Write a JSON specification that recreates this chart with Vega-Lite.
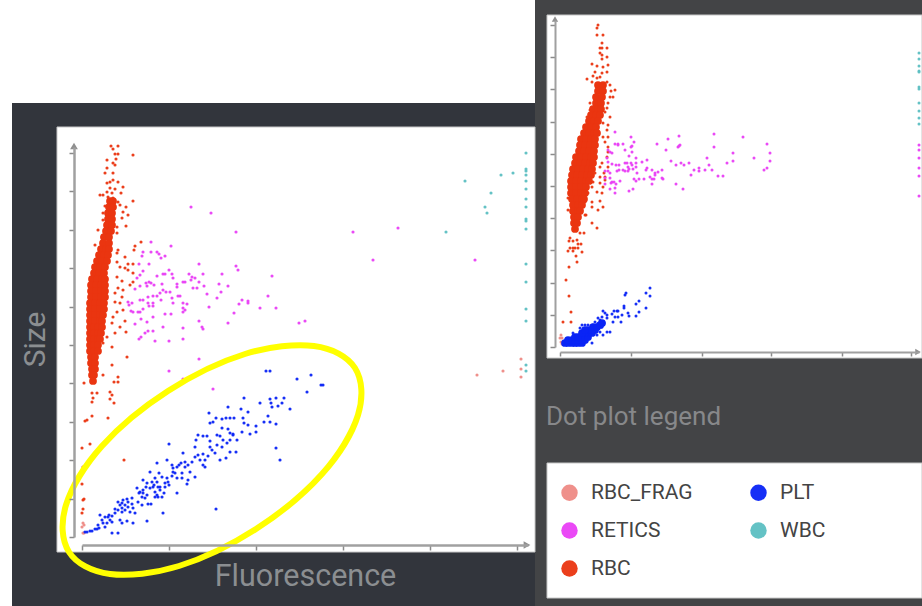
{"$schema":"https://vega.github.io/schema/vega-lite/v6.json","width":922,"height":606,"padding":0,"autosize":{"type":"none"},"background":"white","config":{"view":{"stroke":null},"font":"Roboto"},
"datasets":{
"frameL":[{"x0":12,"x1":535,"y0":103,"y1":606}],
"frameR":[{"x0":535,"x1":922,"y0":0,"y1":606}],
"white":[{"x0":57,"x1":535,"y0":127,"y1":552},{"x0":547,"x1":922,"y0":15,"y1":358},{"x0":547,"x1":922,"y0":463,"y1":598}],
"caption":[{"x":546,"y":417,"text":"Dot plot legend"}],
"ring":[{"k":1,"x":355,"y":368},{"k":2,"x":358,"y":415},{"k":3,"x":322,"y":474},{"k":4,"x":256,"y":529},{"k":5,"x":179,"y":566},{"k":6,"x":110,"y":574},{"k":7,"x":69,"y":552},{"k":8,"x":66,"y":505},{"k":9,"x":102,"y":446},{"k":10,"x":168,"y":391},{"k":11,"x":245,"y":354},{"k":12,"x":314,"y":346}],
"arrowUpL":[{"x":-8,"y":391}],"arrowRightL":[{"x":445,"y":-8}],"arrowUpR":[{"x":-5,"y":328}],"arrowRightR":[{"x":358,"y":-5}],
"coreL":[{"x":28,"y":336,"p":"RBC"},{"x":31,"y":336,"p":"RBC"},{"x":27,"y":330,"p":"RBC"},{"x":31,"y":330,"p":"RBC"},{"x":26,"y":324,"p":"RBC"},{"x":30,"y":324,"p":"RBC"},{"x":26,"y":318,"p":"RBC"},{"x":30,"y":318,"p":"RBC"},{"x":25,"y":312,"p":"RBC"},{"x":30,"y":312,"p":"RBC"},{"x":24,"y":306,"p":"RBC"},{"x":29,"y":306,"p":"RBC"},{"x":22,"y":300,"p":"RBC"},{"x":27,"y":300,"p":"RBC"},{"x":21,"y":294,"p":"RBC"},{"x":27,"y":294,"p":"RBC"},{"x":19,"y":288,"p":"RBC"},{"x":24,"y":288,"p":"RBC"},{"x":27,"y":288,"p":"RBC"},{"x":17,"y":282,"p":"RBC"},{"x":22,"y":282,"p":"RBC"},{"x":26,"y":282,"p":"RBC"},{"x":15,"y":276,"p":"RBC"},{"x":20,"y":276,"p":"RBC"},{"x":25,"y":276,"p":"RBC"},{"x":13,"y":270,"p":"RBC"},{"x":18,"y":270,"p":"RBC"},{"x":23,"y":270,"p":"RBC"},{"x":12,"y":264,"p":"RBC"},{"x":17,"y":264,"p":"RBC"},{"x":22,"y":264,"p":"RBC"},{"x":10,"y":258,"p":"RBC"},{"x":15,"y":258,"p":"RBC"},{"x":20,"y":258,"p":"RBC"},{"x":23,"y":258,"p":"RBC"},{"x":9,"y":252,"p":"RBC"},{"x":14,"y":252,"p":"RBC"},{"x":19,"y":252,"p":"RBC"},{"x":23,"y":252,"p":"RBC"},{"x":9,"y":246,"p":"RBC"},{"x":14,"y":246,"p":"RBC"},{"x":19,"y":246,"p":"RBC"},{"x":23,"y":246,"p":"RBC"},{"x":9,"y":240,"p":"RBC"},{"x":14,"y":240,"p":"RBC"},{"x":19,"y":240,"p":"RBC"},{"x":23,"y":240,"p":"RBC"},{"x":8,"y":234,"p":"RBC"},{"x":13,"y":234,"p":"RBC"},{"x":18,"y":234,"p":"RBC"},{"x":22,"y":234,"p":"RBC"},{"x":8,"y":228,"p":"RBC"},{"x":13,"y":228,"p":"RBC"},{"x":18,"y":228,"p":"RBC"},{"x":22,"y":228,"p":"RBC"},{"x":8,"y":222,"p":"RBC"},{"x":13,"y":222,"p":"RBC"},{"x":18,"y":222,"p":"RBC"},{"x":21,"y":222,"p":"RBC"},{"x":8,"y":216,"p":"RBC"},{"x":13,"y":216,"p":"RBC"},{"x":18,"y":216,"p":"RBC"},{"x":20,"y":216,"p":"RBC"},{"x":8,"y":210,"p":"RBC"},{"x":12,"y":210,"p":"RBC"},{"x":16,"y":210,"p":"RBC"},{"x":20,"y":210,"p":"RBC"},{"x":8,"y":204,"p":"RBC"},{"x":12,"y":204,"p":"RBC"},{"x":16,"y":204,"p":"RBC"},{"x":19,"y":204,"p":"RBC"},{"x":8,"y":198,"p":"RBC"},{"x":12,"y":198,"p":"RBC"},{"x":16,"y":198,"p":"RBC"},{"x":18,"y":198,"p":"RBC"},{"x":8,"y":192,"p":"RBC"},{"x":12,"y":192,"p":"RBC"},{"x":16,"y":192,"p":"RBC"},{"x":8,"y":186,"p":"RBC"},{"x":12,"y":186,"p":"RBC"},{"x":16,"y":186,"p":"RBC"},{"x":9,"y":180,"p":"RBC"},{"x":13,"y":180,"p":"RBC"},{"x":9,"y":174,"p":"RBC"},{"x":13,"y":174,"p":"RBC"},{"x":10,"y":168,"p":"RBC"},{"x":13,"y":168,"p":"RBC"},{"x":10,"y":162,"p":"RBC"},{"x":12,"y":162,"p":"RBC"},{"x":11,"y":156,"p":"RBC"}],
"dotsL":[{"x":29,"y":391,"p":"RBC"},{"x":36,"y":391,"p":"RBC"},{"x":31,"y":388,"p":"RBC"},{"x":33,"y":383,"p":"RBC"},{"x":36,"y":383,"p":"RBC"},{"x":51,"y":382,"p":"RBC"},{"x":25,"y":377,"p":"RBC"},{"x":34,"y":378,"p":"RBC"},{"x":31,"y":374,"p":"RBC"},{"x":33,"y":372,"p":"RBC"},{"x":25,"y":369,"p":"RBC"},{"x":31,"y":364,"p":"RBC"},{"x":23,"y":364,"p":"RBC"},{"x":28,"y":355,"p":"RBC"},{"x":31,"y":357,"p":"RBC"},{"x":36,"y":355,"p":"RBC"},{"x":25,"y":354,"p":"RBC"},{"x":41,"y":350,"p":"RBC"},{"x":28,"y":349,"p":"RBC"},{"x":33,"y":348,"p":"RBC"},{"x":25,"y":345,"p":"RBC"},{"x":30,"y":344,"p":"RBC"},{"x":21,"y":342,"p":"RBC"},{"x":18,"y":342,"p":"RBC"},{"x":39,"y":344,"p":"RBC"},{"x":26,"y":340,"p":"RBC"},{"x":31,"y":339,"p":"RBC"},{"x":51,"y":336,"p":"RBC"},{"x":36,"y":335,"p":"RBC"},{"x":23,"y":331,"p":"RBC"},{"x":38,"y":332,"p":"RBC"},{"x":44,"y":330,"p":"RBC"},{"x":41,"y":325,"p":"RBC"},{"x":46,"y":322,"p":"RBC"},{"x":21,"y":324,"p":"RBC"},{"x":40,"y":319,"p":"RBC"},{"x":21,"y":317,"p":"RBC"},{"x":44,"y":311,"p":"RBC"},{"x":16,"y":307,"p":"RBC"},{"x":35,"y":310,"p":"RBC"},{"x":20,"y":300,"p":"RBC"},{"x":35,"y":304,"p":"RBC"},{"x":13,"y":292,"p":"RBC"},{"x":59,"y":295,"p":"RBC"},{"x":53,"y":291,"p":"RBC"},{"x":52,"y":287,"p":"RBC"},{"x":36,"y":287,"p":"RBC"},{"x":35,"y":284,"p":"RBC"},{"x":43,"y":280,"p":"RBC"},{"x":35,"y":275,"p":"RBC"},{"x":46,"y":273,"p":"RBC"},{"x":51,"y":273,"p":"RBC"},{"x":38,"y":270,"p":"RBC"},{"x":43,"y":269,"p":"RBC"},{"x":46,"y":267,"p":"RBC"},{"x":51,"y":264,"p":"RBC"},{"x":35,"y":260,"p":"RBC"},{"x":40,"y":256,"p":"RBC"},{"x":51,"y":255,"p":"RBC"},{"x":48,"y":252,"p":"RBC"},{"x":36,"y":249,"p":"RBC"},{"x":41,"y":247,"p":"RBC"},{"x":33,"y":244,"p":"RBC"},{"x":40,"y":240,"p":"RBC"},{"x":33,"y":235,"p":"RBC"},{"x":38,"y":234,"p":"RBC"},{"x":41,"y":227,"p":"RBC"},{"x":35,"y":225,"p":"RBC"},{"x":31,"y":220,"p":"RBC"},{"x":43,"y":216,"p":"RBC"},{"x":30,"y":214,"p":"RBC"},{"x":38,"y":210,"p":"RBC"},{"x":33,"y":204,"p":"RBC"},{"x":44,"y":205,"p":"RBC"},{"x":25,"y":200,"p":"RBC"},{"x":30,"y":190,"p":"RBC"},{"x":45,"y":180,"p":"RBC"},{"x":21,"y":194,"p":"RBC"},{"x":30,"y":172,"p":"RBC"},{"x":21,"y":162,"p":"RBC"},{"x":36,"y":160,"p":"RBC"},{"x":36,"y":155,"p":"RBC"},{"x":32,"y":155,"p":"RBC"},{"x":2,"y":154,"p":"RBC"},{"x":10,"y":144,"p":"RBC"},{"x":15,"y":144,"p":"RBC"},{"x":28,"y":145,"p":"RBC"},{"x":30,"y":142,"p":"RBC"},{"x":11,"y":139,"p":"RBC"},{"x":28,"y":138,"p":"RBC"},{"x":10,"y":135,"p":"RBC"},{"x":32,"y":134,"p":"RBC"},{"x":5,"y":117,"p":"RBC"},{"x":3,"y":116,"p":"RBC"},{"x":10,"y":121,"p":"RBC"},{"x":26,"y":119,"p":"RBC"},{"x":8,"y":93,"p":"RBC"},{"x":0,"y":89,"p":"RBC"},{"x":42,"y":77,"p":"RBC"},{"x":1,"y":70,"p":"RBC"},{"x":0,"y":53,"p":"RBC"},{"x":1,"y":37,"p":"RBC"},{"x":2,"y":38,"p":"RBC"},{"x":1,"y":28,"p":"RBC"},{"x":0,"y":24,"p":"RBC"},
{"x":1,"y":14,"p":"RBC_FRAG"},{"x":0,"y":10,"p":"RBC_FRAG"},{"x":2,"y":12,"p":"RBC_FRAG"},{"x":1,"y":4,"p":"RBC_FRAG"},{"x":2,"y":4,"p":"RBC_FRAG"},{"x":439,"y":178,"p":"RBC_FRAG"},{"x":439,"y":168,"p":"RBC_FRAG"},{"x":439,"y":160,"p":"RBC_FRAG"},{"x":421,"y":166,"p":"RBC_FRAG"},{"x":395,"y":162,"p":"RBC_FRAG"},
{"x":444,"y":384,"p":"WBC"},{"x":444,"y":368,"p":"WBC"},{"x":444,"y":366,"p":"WBC"},{"x":444,"y":362,"p":"WBC"},{"x":444,"y":356,"p":"WBC"},{"x":444,"y":348,"p":"WBC"},{"x":444,"y":338,"p":"WBC"},{"x":444,"y":330,"p":"WBC"},{"x":444,"y":318,"p":"WBC"},{"x":444,"y":316,"p":"WBC"},{"x":444,"y":308,"p":"WBC"},{"x":444,"y":273,"p":"WBC"},{"x":444,"y":255,"p":"WBC"},{"x":444,"y":228,"p":"WBC"},{"x":444,"y":216,"p":"WBC"},{"x":444,"y":172,"p":"WBC"},{"x":444,"y":166,"p":"WBC"},{"x":431,"y":364,"p":"WBC"},{"x":419,"y":362,"p":"WBC"},{"x":383,"y":356,"p":"WBC"},{"x":409,"y":344,"p":"WBC"},{"x":403,"y":330,"p":"WBC"},{"x":405,"y":324,"p":"WBC"},{"x":364,"y":305,"p":"WBC"},
{"x":271,"y":305,"p":"RETICS"},{"x":316,"y":309,"p":"RETICS"},{"x":291,"y":277,"p":"RETICS"},{"x":393,"y":277,"p":"RETICS"},{"x":223,"y":216,"p":"RETICS"},{"x":109,"y":330,"p":"RETICS"},{"x":129,"y":324,"p":"RETICS"},{"x":154,"y":305,"p":"RETICS"},{"x":89,"y":291,"p":"RETICS"},{"x":69,"y":295,"p":"RETICS"},{"x":61,"y":285,"p":"RETICS"},{"x":69,"y":285,"p":"RETICS"},{"x":75,"y":285,"p":"RETICS"},{"x":77,"y":283,"p":"RETICS"},{"x":83,"y":281,"p":"RETICS"},{"x":60,"y":281,"p":"RETICS"},{"x":79,"y":279,"p":"RETICS"},{"x":117,"y":273,"p":"RETICS"},{"x":154,"y":271,"p":"RETICS"},{"x":156,"y":267,"p":"RETICS"},{"x":67,"y":273,"p":"RETICS"},{"x":57,"y":273,"p":"RETICS"},{"x":61,"y":266,"p":"RETICS"},{"x":58,"y":262,"p":"RETICS"},{"x":55,"y":259,"p":"RETICS"},{"x":87,"y":267,"p":"RETICS"},{"x":81,"y":263,"p":"RETICS"},{"x":83,"y":263,"p":"RETICS"},{"x":90,"y":263,"p":"RETICS"},{"x":91,"y":259,"p":"RETICS"},{"x":75,"y":261,"p":"RETICS"},{"x":107,"y":263,"p":"RETICS"},{"x":121,"y":263,"p":"RETICS"},{"x":140,"y":263,"p":"RETICS"},{"x":190,"y":261,"p":"RETICS"},{"x":110,"y":260,"p":"RETICS"},{"x":113,"y":259,"p":"RETICS"},{"x":109,"y":257,"p":"RETICS"},{"x":101,"y":255,"p":"RETICS"},{"x":103,"y":255,"p":"RETICS"},{"x":117,"y":255,"p":"RETICS"},{"x":95,"y":253,"p":"RETICS"},{"x":95,"y":250,"p":"RETICS"},{"x":64,"y":254,"p":"RETICS"},{"x":67,"y":255,"p":"RETICS"},{"x":69,"y":254,"p":"RETICS"},{"x":72,"y":252,"p":"RETICS"},{"x":65,"y":251,"p":"RETICS"},{"x":80,"y":253,"p":"RETICS"},{"x":137,"y":253,"p":"RETICS"},{"x":146,"y":251,"p":"RETICS"},{"x":53,"y":248,"p":"RETICS"},{"x":58,"y":251,"p":"RETICS"},{"x":111,"y":249,"p":"RETICS"},{"x":115,"y":249,"p":"RETICS"},{"x":122,"y":251,"p":"RETICS"},{"x":81,"y":247,"p":"RETICS"},{"x":84,"y":245,"p":"RETICS"},{"x":78,"y":244,"p":"RETICS"},{"x":75,"y":241,"p":"RETICS"},{"x":88,"y":245,"p":"RETICS"},{"x":139,"y":245,"p":"RETICS"},{"x":125,"y":243,"p":"RETICS"},{"x":186,"y":241,"p":"RETICS"},{"x":61,"y":237,"p":"RETICS"},{"x":58,"y":237,"p":"RETICS"},{"x":66,"y":240,"p":"RETICS"},{"x":71,"y":241,"p":"RETICS"},{"x":98,"y":241,"p":"RETICS"},{"x":96,"y":241,"p":"RETICS"},{"x":135,"y":239,"p":"RETICS"},{"x":46,"y":235,"p":"RETICS"},{"x":50,"y":234,"p":"RETICS"},{"x":47,"y":232,"p":"RETICS"},{"x":66,"y":234,"p":"RETICS"},{"x":71,"y":234,"p":"RETICS"},{"x":67,"y":231,"p":"RETICS"},{"x":71,"y":231,"p":"RETICS"},{"x":79,"y":237,"p":"RETICS"},{"x":90,"y":239,"p":"RETICS"},{"x":91,"y":234,"p":"RETICS"},{"x":101,"y":234,"p":"RETICS"},{"x":105,"y":233,"p":"RETICS"},{"x":127,"y":230,"p":"RETICS"},{"x":160,"y":237,"p":"RETICS"},{"x":157,"y":233,"p":"RETICS"},{"x":166,"y":236,"p":"RETICS"},{"x":166,"y":234,"p":"RETICS"},{"x":178,"y":229,"p":"RETICS"},{"x":194,"y":229,"p":"RETICS"},{"x":101,"y":229,"p":"RETICS"},{"x":103,"y":227,"p":"RETICS"},{"x":101,"y":225,"p":"RETICS"},{"x":49,"y":226,"p":"RETICS"},{"x":51,"y":225,"p":"RETICS"},{"x":56,"y":225,"p":"RETICS"},{"x":58,"y":225,"p":"RETICS"},{"x":61,"y":228,"p":"RETICS"},{"x":83,"y":223,"p":"RETICS"},{"x":89,"y":223,"p":"RETICS"},{"x":71,"y":220,"p":"RETICS"},{"x":59,"y":218,"p":"RETICS"},{"x":152,"y":224,"p":"RETICS"},{"x":117,"y":216,"p":"RETICS"},{"x":146,"y":214,"p":"RETICS"},{"x":53,"y":213,"p":"RETICS"},{"x":65,"y":215,"p":"RETICS"},{"x":81,"y":210,"p":"RETICS"},{"x":101,"y":209,"p":"RETICS"},{"x":120,"y":210,"p":"RETICS"},{"x":121,"y":208,"p":"RETICS"},{"x":66,"y":206,"p":"RETICS"},{"x":71,"y":206,"p":"RETICS"},{"x":63,"y":204,"p":"RETICS"},{"x":59,"y":200,"p":"RETICS"},{"x":57,"y":198,"p":"RETICS"},{"x":73,"y":196,"p":"RETICS"},{"x":87,"y":196,"p":"RETICS"},{"x":101,"y":198,"p":"RETICS"},{"x":217,"y":214,"p":"RETICS"},{"x":117,"y":178,"p":"RETICS"},{"x":87,"y":166,"p":"RETICS"},{"x":131,"y":148,"p":"RETICS"},{"x":101,"y":158,"p":"RETICS"},
{"x":3,"y":5,"p":"PLT"},{"x":5,"y":5,"p":"PLT"},{"x":8,"y":6,"p":"PLT"},{"x":10,"y":6,"p":"PLT"},{"x":13,"y":8,"p":"PLT"},{"x":15,"y":8,"p":"PLT"},{"x":17,"y":9,"p":"PLT"},{"x":16,"y":12,"p":"PLT"},{"x":23,"y":10,"p":"PLT"},{"x":25,"y":14,"p":"PLT"},{"x":28,"y":17,"p":"PLT"},{"x":30,"y":21,"p":"PLT"},{"x":18,"y":22,"p":"PLT"},{"x":23,"y":20,"p":"PLT"},{"x":26,"y":20,"p":"PLT"},{"x":30,"y":15,"p":"PLT"},{"x":30,"y":4,"p":"PLT"},{"x":36,"y":4,"p":"PLT"},{"x":33,"y":24,"p":"PLT"},{"x":36,"y":27,"p":"PLT"},{"x":40,"y":25,"p":"PLT"},{"x":43,"y":27,"p":"PLT"},{"x":36,"y":35,"p":"PLT"},{"x":40,"y":34,"p":"PLT"},{"x":41,"y":37,"p":"PLT"},{"x":45,"y":38,"p":"PLT"},{"x":50,"y":39,"p":"PLT"},{"x":46,"y":30,"p":"PLT"},{"x":50,"y":33,"p":"PLT"},{"x":51,"y":29,"p":"PLT"},{"x":48,"y":25,"p":"PLT"},{"x":53,"y":24,"p":"PLT"},{"x":38,"y":17,"p":"PLT"},{"x":45,"y":16,"p":"PLT"},{"x":51,"y":14,"p":"PLT"},{"x":40,"y":14,"p":"PLT"},{"x":65,"y":16,"p":"PLT"},{"x":81,"y":24,"p":"PLT"},{"x":134,"y":28,"p":"PLT"},{"x":58,"y":45,"p":"PLT"},{"x":61,"y":44,"p":"PLT"},{"x":60,"y":40,"p":"PLT"},{"x":65,"y":42,"p":"PLT"},{"x":63,"y":39,"p":"PLT"},{"x":56,"y":35,"p":"PLT"},{"x":60,"y":32,"p":"PLT"},{"x":66,"y":33,"p":"PLT"},{"x":69,"y":33,"p":"PLT"},{"x":55,"y":49,"p":"PLT"},{"x":61,"y":57,"p":"PLT"},{"x":65,"y":54,"p":"PLT"},{"x":70,"y":55,"p":"PLT"},{"x":73,"y":59,"p":"PLT"},{"x":75,"y":55,"p":"PLT"},{"x":71,"y":50,"p":"PLT"},{"x":68,"y":49,"p":"PLT"},{"x":73,"y":45,"p":"PLT"},{"x":75,"y":42,"p":"PLT"},{"x":80,"y":40,"p":"PLT"},{"x":77,"y":64,"p":"PLT"},{"x":80,"y":60,"p":"PLT"},{"x":85,"y":59,"p":"PLT"},{"x":87,"y":52,"p":"PLT"},{"x":83,"y":54,"p":"PLT"},{"x":78,"y":50,"p":"PLT"},{"x":82,"y":44,"p":"PLT"},{"x":95,"y":44,"p":"PLT"},{"x":68,"y":65,"p":"PLT"},{"x":75,"y":74,"p":"PLT"},{"x":85,"y":77,"p":"PLT"},{"x":90,"y":72,"p":"PLT"},{"x":91,"y":69,"p":"PLT"},{"x":93,"y":64,"p":"PLT"},{"x":90,"y":61,"p":"PLT"},{"x":95,"y":59,"p":"PLT"},{"x":100,"y":64,"p":"PLT"},{"x":100,"y":59,"p":"PLT"},{"x":105,"y":53,"p":"PLT"},{"x":106,"y":57,"p":"PLT"},{"x":97,"y":72,"p":"PLT"},{"x":101,"y":84,"p":"PLT"},{"x":103,"y":70,"p":"PLT"},{"x":106,"y":72,"p":"PLT"},{"x":110,"y":75,"p":"PLT"},{"x":113,"y":80,"p":"PLT"},{"x":116,"y":82,"p":"PLT"},{"x":121,"y":83,"p":"PLT"},{"x":113,"y":60,"p":"PLT"},{"x":108,"y":65,"p":"PLT"},{"x":87,"y":93,"p":"PLT"},{"x":121,"y":72,"p":"PLT"},{"x":123,"y":70,"p":"PLT"},{"x":118,"y":77,"p":"PLT"},{"x":123,"y":77,"p":"PLT"},{"x":113,"y":90,"p":"PLT"},{"x":114,"y":97,"p":"PLT"},{"x":116,"y":102,"p":"PLT"},{"x":121,"y":101,"p":"PLT"},{"x":125,"y":101,"p":"PLT"},{"x":128,"y":96,"p":"PLT"},{"x":128,"y":90,"p":"PLT"},{"x":130,"y":87,"p":"PLT"},{"x":126,"y":81,"p":"PLT"},{"x":133,"y":84,"p":"PLT"},{"x":135,"y":102,"p":"PLT"},{"x":138,"y":101,"p":"PLT"},{"x":141,"y":97,"p":"PLT"},{"x":135,"y":92,"p":"PLT"},{"x":140,"y":90,"p":"PLT"},{"x":145,"y":94,"p":"PLT"},{"x":148,"y":97,"p":"PLT"},{"x":155,"y":97,"p":"PLT"},{"x":151,"y":102,"p":"PLT"},{"x":148,"y":85,"p":"PLT"},{"x":154,"y":85,"p":"PLT"},{"x":138,"y":77,"p":"PLT"},{"x":144,"y":79,"p":"PLT"},{"x":128,"y":114,"p":"PLT"},{"x":131,"y":115,"p":"PLT"},{"x":127,"y":124,"p":"PLT"},{"x":134,"y":119,"p":"PLT"},{"x":140,"y":118,"p":"PLT"},{"x":144,"y":119,"p":"PLT"},{"x":148,"y":119,"p":"PLT"},{"x":152,"y":119,"p":"PLT"},{"x":140,"y":109,"p":"PLT"},{"x":146,"y":108,"p":"PLT"},{"x":148,"y":104,"p":"PLT"},{"x":151,"y":103,"p":"PLT"},{"x":146,"y":130,"p":"PLT"},{"x":159,"y":128,"p":"PLT"},{"x":162,"y":139,"p":"PLT"},{"x":166,"y":125,"p":"PLT"},{"x":161,"y":119,"p":"PLT"},{"x":162,"y":114,"p":"PLT"},{"x":166,"y":112,"p":"PLT"},{"x":160,"y":105,"p":"PLT"},{"x":168,"y":103,"p":"PLT"},{"x":174,"y":111,"p":"PLT"},{"x":174,"y":105,"p":"PLT"},{"x":178,"y":134,"p":"PLT"},{"x":186,"y":121,"p":"PLT"},{"x":182,"y":115,"p":"PLT"},{"x":188,"y":115,"p":"PLT"},{"x":194,"y":113,"p":"PLT"},{"x":188,"y":138,"p":"PLT"},{"x":189,"y":134,"p":"PLT"},{"x":190,"y":130,"p":"PLT"},{"x":194,"y":139,"p":"PLT"},{"x":196,"y":131,"p":"PLT"},{"x":200,"y":134,"p":"PLT"},{"x":202,"y":139,"p":"PLT"},{"x":208,"y":128,"p":"PLT"},{"x":194,"y":89,"p":"PLT"},{"x":198,"y":77,"p":"PLT"},{"x":184,"y":166,"p":"PLT"},{"x":188,"y":166,"p":"PLT"},{"x":215,"y":158,"p":"PLT"},{"x":229,"y":162,"p":"PLT"},{"x":225,"y":145,"p":"PLT"},{"x":239,"y":152,"p":"PLT"},{"x":241,"y":152,"p":"PLT"},{"x":72,"y":52,"p":"PLT"},{"x":76,"y":50,"p":"PLT"},{"x":78,"y":47,"p":"PLT"},{"x":83,"y":50,"p":"PLT"},{"x":86,"y":55,"p":"PLT"},{"x":91,"y":65,"p":"PLT"},{"x":95,"y":70,"p":"PLT"},{"x":99,"y":74,"p":"PLT"},{"x":103,"y":75,"p":"PLT"},{"x":57,"y":44,"p":"PLT"},{"x":61,"y":47,"p":"PLT"},{"x":64,"y":50,"p":"PLT"},{"x":73,"y":40,"p":"PLT"},{"x":76,"y":40,"p":"PLT"},{"x":40,"y":29,"p":"PLT"},{"x":43,"y":32,"p":"PLT"},{"x":46,"y":35,"p":"PLT"},{"x":33,"y":28,"p":"PLT"},{"x":38,"y":32,"p":"PLT"},{"x":27,"y":22,"p":"PLT"},{"x":20,"y":17,"p":"PLT"},{"x":21,"y":14,"p":"PLT"}],
"coreR":[{"x":38,"y":262,"p":"RBC"},{"x":43,"y":262,"p":"RBC"},{"x":38,"y":256,"p":"RBC"},{"x":43,"y":256,"p":"RBC"},{"x":36,"y":250,"p":"RBC"},{"x":42,"y":250,"p":"RBC"},{"x":36,"y":244,"p":"RBC"},{"x":41,"y":244,"p":"RBC"},{"x":33,"y":238,"p":"RBC"},{"x":38,"y":238,"p":"RBC"},{"x":41,"y":238,"p":"RBC"},{"x":31,"y":232,"p":"RBC"},{"x":36,"y":232,"p":"RBC"},{"x":40,"y":232,"p":"RBC"},{"x":29,"y":226,"p":"RBC"},{"x":34,"y":226,"p":"RBC"},{"x":38,"y":226,"p":"RBC"},{"x":26,"y":220,"p":"RBC"},{"x":31,"y":220,"p":"RBC"},{"x":36,"y":220,"p":"RBC"},{"x":24,"y":214,"p":"RBC"},{"x":29,"y":214,"p":"RBC"},{"x":34,"y":214,"p":"RBC"},{"x":37,"y":214,"p":"RBC"},{"x":21,"y":208,"p":"RBC"},{"x":26,"y":208,"p":"RBC"},{"x":31,"y":208,"p":"RBC"},{"x":35,"y":208,"p":"RBC"},{"x":20,"y":202,"p":"RBC"},{"x":25,"y":202,"p":"RBC"},{"x":30,"y":202,"p":"RBC"},{"x":35,"y":202,"p":"RBC"},{"x":19,"y":196,"p":"RBC"},{"x":24,"y":196,"p":"RBC"},{"x":29,"y":196,"p":"RBC"},{"x":34,"y":196,"p":"RBC"},{"x":16,"y":190,"p":"RBC"},{"x":21,"y":190,"p":"RBC"},{"x":26,"y":190,"p":"RBC"},{"x":31,"y":190,"p":"RBC"},{"x":34,"y":190,"p":"RBC"},{"x":15,"y":184,"p":"RBC"},{"x":20,"y":184,"p":"RBC"},{"x":25,"y":184,"p":"RBC"},{"x":30,"y":184,"p":"RBC"},{"x":33,"y":184,"p":"RBC"},{"x":13,"y":178,"p":"RBC"},{"x":18,"y":178,"p":"RBC"},{"x":23,"y":178,"p":"RBC"},{"x":28,"y":178,"p":"RBC"},{"x":32,"y":178,"p":"RBC"},{"x":12,"y":172,"p":"RBC"},{"x":17,"y":172,"p":"RBC"},{"x":22,"y":172,"p":"RBC"},{"x":27,"y":172,"p":"RBC"},{"x":31,"y":172,"p":"RBC"},{"x":11,"y":166,"p":"RBC"},{"x":16,"y":166,"p":"RBC"},{"x":21,"y":166,"p":"RBC"},{"x":26,"y":166,"p":"RBC"},{"x":29,"y":166,"p":"RBC"},{"x":11,"y":160,"p":"RBC"},{"x":16,"y":160,"p":"RBC"},{"x":21,"y":160,"p":"RBC"},{"x":26,"y":160,"p":"RBC"},{"x":11,"y":154,"p":"RBC"},{"x":16,"y":154,"p":"RBC"},{"x":21,"y":154,"p":"RBC"},{"x":25,"y":154,"p":"RBC"},{"x":12,"y":148,"p":"RBC"},{"x":17,"y":148,"p":"RBC"},{"x":22,"y":148,"p":"RBC"},{"x":24,"y":148,"p":"RBC"},{"x":13,"y":142,"p":"RBC"},{"x":18,"y":142,"p":"RBC"},{"x":22,"y":142,"p":"RBC"},{"x":13,"y":136,"p":"RBC"},{"x":18,"y":136,"p":"RBC"},{"x":20,"y":136,"p":"RBC"},{"x":14,"y":130,"p":"RBC"},{"x":18,"y":130,"p":"RBC"},{"x":14,"y":124,"p":"RBC"},{"x":17,"y":124,"p":"RBC"},{"x":15,"y":118,"p":"RBC"},
{"x":5,"y":4,"p":"PLT"},{"x":8,"y":4,"p":"PLT"},{"x":12,"y":4,"p":"PLT"},{"x":15,"y":4,"p":"PLT"},{"x":18,"y":4,"p":"PLT"},{"x":22,"y":4,"p":"PLT"},{"x":8,"y":7,"p":"PLT"},{"x":12,"y":7,"p":"PLT"},{"x":15,"y":7,"p":"PLT"},{"x":18,"y":7,"p":"PLT"},{"x":22,"y":7,"p":"PLT"},{"x":25,"y":7,"p":"PLT"},{"x":15,"y":10,"p":"PLT"},{"x":18,"y":10,"p":"PLT"},{"x":22,"y":10,"p":"PLT"},{"x":25,"y":10,"p":"PLT"},{"x":28,"y":10,"p":"PLT"},{"x":32,"y":14,"p":"PLT"},{"x":28,"y":14,"p":"PLT"},{"x":25,"y":14,"p":"PLT"},{"x":22,"y":14,"p":"PLT"},{"x":35,"y":17,"p":"PLT"},{"x":32,"y":17,"p":"PLT"},{"x":28,"y":17,"p":"PLT"},{"x":25,"y":17,"p":"PLT"},{"x":33,"y":20,"p":"PLT"},{"x":37,"y":20,"p":"PLT"},{"x":40,"y":22,"p":"PLT"},{"x":42,"y":24,"p":"PLT"}],
"dotsR":[{"x":38,"y":322,"p":"RBC"},{"x":37,"y":319,"p":"RBC"},{"x":37,"y":312,"p":"RBC"},{"x":43,"y":312,"p":"RBC"},{"x":42,"y":304,"p":"RBC"},{"x":40,"y":299,"p":"RBC"},{"x":42,"y":299,"p":"RBC"},{"x":47,"y":299,"p":"RBC"},{"x":40,"y":294,"p":"RBC"},{"x":42,"y":292,"p":"RBC"},{"x":47,"y":290,"p":"RBC"},{"x":42,"y":288,"p":"RBC"},{"x":32,"y":283,"p":"RBC"},{"x":37,"y":281,"p":"RBC"},{"x":43,"y":280,"p":"RBC"},{"x":48,"y":282,"p":"RBC"},{"x":42,"y":274,"p":"RBC"},{"x":35,"y":275,"p":"RBC"},{"x":47,"y":275,"p":"RBC"},{"x":33,"y":271,"p":"RBC"},{"x":27,"y":268,"p":"RBC"},{"x":37,"y":269,"p":"RBC"},{"x":40,"y":270,"p":"RBC"},{"x":47,"y":265,"p":"RBC"},{"x":32,"y":265,"p":"RBC"},{"x":50,"y":262,"p":"RBC"},{"x":55,"y":257,"p":"RBC"},{"x":51,"y":256,"p":"RBC"},{"x":27,"y":230,"p":"RBC"},{"x":50,"y":230,"p":"RBC"},{"x":53,"y":250,"p":"RBC"},{"x":50,"y":250,"p":"RBC"},{"x":30,"y":244,"p":"RBC"},{"x":48,"y":244,"p":"RBC"},{"x":47,"y":239,"p":"RBC"},{"x":30,"y":237,"p":"RBC"},{"x":45,"y":235,"p":"RBC"},{"x":48,"y":222,"p":"RBC"},{"x":43,"y":224,"p":"RBC"},{"x":47,"y":217,"p":"RBC"},{"x":43,"y":210,"p":"RBC"},{"x":48,"y":210,"p":"RBC"},{"x":45,"y":205,"p":"RBC"},{"x":48,"y":200,"p":"RBC"},{"x":48,"y":195,"p":"RBC"},{"x":47,"y":190,"p":"RBC"},{"x":42,"y":184,"p":"RBC"},{"x":40,"y":180,"p":"RBC"},{"x":48,"y":180,"p":"RBC"},{"x":44,"y":174,"p":"RBC"},{"x":40,"y":170,"p":"RBC"},{"x":45,"y":167,"p":"RBC"},{"x":40,"y":164,"p":"RBC"},{"x":43,"y":160,"p":"RBC"},{"x":42,"y":154,"p":"RBC"},{"x":37,"y":155,"p":"RBC"},{"x":45,"y":170,"p":"RBC"},{"x":33,"y":165,"p":"RBC"},{"x":32,"y":160,"p":"RBC"},{"x":28,"y":154,"p":"RBC"},{"x":25,"y":145,"p":"RBC"},{"x":32,"y":145,"p":"RBC"},{"x":40,"y":146,"p":"RBC"},{"x":32,"y":140,"p":"RBC"},{"x":43,"y":140,"p":"RBC"},{"x":38,"y":137,"p":"RBC"},{"x":22,"y":137,"p":"RBC"},{"x":25,"y":132,"p":"RBC"},{"x":8,"y":149,"p":"RBC"},{"x":8,"y":137,"p":"RBC"},{"x":35,"y":174,"p":"RBC"},{"x":26,"y":132,"p":"RBC"},{"x":32,"y":124,"p":"RBC"},{"x":37,"y":119,"p":"RBC"},{"x":24,"y":114,"p":"RBC"},{"x":20,"y":114,"p":"RBC"},{"x":10,"y":109,"p":"RBC"},{"x":17,"y":107,"p":"RBC"},{"x":9,"y":106,"p":"RBC"},{"x":13,"y":106,"p":"RBC"},{"x":18,"y":103,"p":"RBC"},{"x":21,"y":103,"p":"RBC"},{"x":10,"y":99,"p":"RBC"},{"x":15,"y":99,"p":"RBC"},{"x":13,"y":99,"p":"RBC"},{"x":18,"y":99,"p":"RBC"},{"x":8,"y":96,"p":"RBC"},{"x":13,"y":96,"p":"RBC"},{"x":22,"y":95,"p":"RBC"},{"x":16,"y":91,"p":"RBC"},{"x":17,"y":85,"p":"RBC"},{"x":9,"y":80,"p":"RBC"},{"x":6,"y":67,"p":"RBC"},{"x":9,"y":51,"p":"RBC"},{"x":11,"y":35,"p":"RBC"},{"x":3,"y":25,"p":"RBC"},{"x":11,"y":25,"p":"RBC"},
{"x":1,"y":12,"p":"RBC_FRAG"},{"x":0,"y":9,"p":"RBC_FRAG"},{"x":2,"y":9,"p":"RBC_FRAG"},{"x":1,"y":5,"p":"RBC_FRAG"},{"x":3,"y":5,"p":"RBC_FRAG"},{"x":2,"y":3,"p":"RBC_FRAG"},
{"x":55,"y":215,"p":"RETICS"},{"x":71,"y":210,"p":"RETICS"},{"x":74,"y":205,"p":"RETICS"},{"x":72,"y":201,"p":"RETICS"},{"x":71,"y":200,"p":"RETICS"},{"x":55,"y":203,"p":"RETICS"},{"x":58,"y":203,"p":"RETICS"},{"x":58,"y":202,"p":"RETICS"},{"x":63,"y":203,"p":"RETICS"},{"x":65,"y":197,"p":"RETICS"},{"x":72,"y":195,"p":"RETICS"},{"x":48,"y":197,"p":"RETICS"},{"x":50,"y":195,"p":"RETICS"},{"x":52,"y":194,"p":"RETICS"},{"x":69,"y":191,"p":"RETICS"},{"x":47,"y":189,"p":"RETICS"},{"x":48,"y":185,"p":"RETICS"},{"x":52,"y":183,"p":"RETICS"},{"x":56,"y":182,"p":"RETICS"},{"x":59,"y":182,"p":"RETICS"},{"x":65,"y":184,"p":"RETICS"},{"x":67,"y":184,"p":"RETICS"},{"x":71,"y":184,"p":"RETICS"},{"x":72,"y":182,"p":"RETICS"},{"x":76,"y":189,"p":"RETICS"},{"x":76,"y":184,"p":"RETICS"},{"x":76,"y":180,"p":"RETICS"},{"x":68,"y":180,"p":"RETICS"},{"x":82,"y":185,"p":"RETICS"},{"x":87,"y":187,"p":"RETICS"},{"x":87,"y":179,"p":"RETICS"},{"x":86,"y":177,"p":"RETICS"},{"x":92,"y":177,"p":"RETICS"},{"x":98,"y":175,"p":"RETICS"},{"x":102,"y":177,"p":"RETICS"},{"x":95,"y":174,"p":"RETICS"},{"x":95,"y":172,"p":"RETICS"},{"x":90,"y":170,"p":"RETICS"},{"x":45,"y":176,"p":"RETICS"},{"x":48,"y":176,"p":"RETICS"},{"x":57,"y":176,"p":"RETICS"},{"x":59,"y":177,"p":"RETICS"},{"x":63,"y":177,"p":"RETICS"},{"x":65,"y":176,"p":"RETICS"},{"x":68,"y":176,"p":"RETICS"},{"x":69,"y":178,"p":"RETICS"},{"x":73,"y":178,"p":"RETICS"},{"x":77,"y":174,"p":"RETICS"},{"x":50,"y":174,"p":"RETICS"},{"x":45,"y":169,"p":"RETICS"},{"x":50,"y":169,"p":"RETICS"},{"x":74,"y":168,"p":"RETICS"},{"x":76,"y":166,"p":"RETICS"},{"x":79,"y":168,"p":"RETICS"},{"x":84,"y":168,"p":"RETICS"},{"x":92,"y":168,"p":"RETICS"},{"x":94,"y":168,"p":"RETICS"},{"x":92,"y":163,"p":"RETICS"},{"x":102,"y":169,"p":"RETICS"},{"x":103,"y":168,"p":"RETICS"},{"x":52,"y":165,"p":"RETICS"},{"x":54,"y":165,"p":"RETICS"},{"x":60,"y":166,"p":"RETICS"},{"x":56,"y":163,"p":"RETICS"},{"x":51,"y":164,"p":"RETICS"},{"x":50,"y":158,"p":"RETICS"},{"x":55,"y":159,"p":"RETICS"},{"x":55,"y":154,"p":"RETICS"},{"x":73,"y":158,"p":"RETICS"},{"x":69,"y":156,"p":"RETICS"},{"x":45,"y":163,"p":"RETICS"},{"x":97,"y":203,"p":"RETICS"},{"x":108,"y":208,"p":"RETICS"},{"x":119,"y":211,"p":"RETICS"},{"x":118,"y":200,"p":"RETICS"},{"x":119,"y":201,"p":"RETICS"},{"x":120,"y":202,"p":"RETICS"},{"x":106,"y":197,"p":"RETICS"},{"x":111,"y":186,"p":"RETICS"},{"x":116,"y":182,"p":"RETICS"},{"x":121,"y":184,"p":"RETICS"},{"x":124,"y":182,"p":"RETICS"},{"x":129,"y":184,"p":"RETICS"},{"x":134,"y":177,"p":"RETICS"},{"x":139,"y":179,"p":"RETICS"},{"x":139,"y":176,"p":"RETICS"},{"x":131,"y":172,"p":"RETICS"},{"x":145,"y":177,"p":"RETICS"},{"x":152,"y":177,"p":"RETICS"},{"x":149,"y":182,"p":"RETICS"},{"x":147,"y":189,"p":"RETICS"},{"x":116,"y":163,"p":"RETICS"},{"x":123,"y":158,"p":"RETICS"},{"x":158,"y":171,"p":"RETICS"},{"x":163,"y":171,"p":"RETICS"},{"x":167,"y":184,"p":"RETICS"},{"x":173,"y":186,"p":"RETICS"},{"x":173,"y":194,"p":"RETICS"},{"x":154,"y":213,"p":"RETICS"},{"x":154,"y":200,"p":"RETICS"},{"x":183,"y":210,"p":"RETICS"},{"x":194,"y":189,"p":"RETICS"},{"x":207,"y":203,"p":"RETICS"},{"x":210,"y":194,"p":"RETICS"},{"x":210,"y":186,"p":"RETICS"},{"x":207,"y":179,"p":"RETICS"},{"x":204,"y":177,"p":"RETICS"},{"x":359,"y":202,"p":"RETICS"},{"x":359,"y":197,"p":"RETICS"},{"x":359,"y":189,"p":"RETICS"},{"x":359,"y":179,"p":"RETICS"},{"x":359,"y":171,"p":"RETICS"},{"x":359,"y":151,"p":"RETICS"},
{"x":359,"y":294,"p":"WBC"},{"x":359,"y":288,"p":"WBC"},{"x":359,"y":281,"p":"WBC"},{"x":359,"y":276,"p":"WBC"},{"x":359,"y":275,"p":"WBC"},{"x":359,"y":260,"p":"WBC"},{"x":359,"y":258,"p":"WBC"},{"x":359,"y":244,"p":"WBC"},{"x":359,"y":236,"p":"WBC"},{"x":359,"y":229,"p":"WBC"},{"x":359,"y":223,"p":"WBC"},
{"x":22,"y":22,"p":"PLT"},{"x":25,"y":22,"p":"PLT"},{"x":28,"y":22,"p":"PLT"},{"x":13,"y":14,"p":"PLT"},{"x":12,"y":5,"p":"PLT"},{"x":20,"y":19,"p":"PLT"},{"x":32,"y":4,"p":"PLT"},{"x":37,"y":12,"p":"PLT"},{"x":40,"y":15,"p":"PLT"},{"x":43,"y":12,"p":"PLT"},{"x":47,"y":15,"p":"PLT"},{"x":50,"y":15,"p":"PLT"},{"x":38,"y":29,"p":"PLT"},{"x":42,"y":30,"p":"PLT"},{"x":47,"y":29,"p":"PLT"},{"x":43,"y":36,"p":"PLT"},{"x":45,"y":34,"p":"PLT"},{"x":47,"y":32,"p":"PLT"},{"x":52,"y":33,"p":"PLT"},{"x":53,"y":25,"p":"PLT"},{"x":61,"y":25,"p":"PLT"},{"x":55,"y":30,"p":"PLT"},{"x":58,"y":30,"p":"PLT"},{"x":62,"y":32,"p":"PLT"},{"x":54,"y":36,"p":"PLT"},{"x":57,"y":36,"p":"PLT"},{"x":58,"y":36,"p":"PLT"},{"x":64,"y":41,"p":"PLT"},{"x":64,"y":39,"p":"PLT"},{"x":68,"y":34,"p":"PLT"},{"x":69,"y":31,"p":"PLT"},{"x":76,"y":31,"p":"PLT"},{"x":79,"y":35,"p":"PLT"},{"x":76,"y":43,"p":"PLT"},{"x":79,"y":46,"p":"PLT"},{"x":86,"y":39,"p":"PLT"},{"x":65,"y":52,"p":"PLT"},{"x":66,"y":54,"p":"PLT"},{"x":86,"y":54,"p":"PLT"},{"x":90,"y":51,"p":"PLT"},{"x":90,"y":59,"p":"PLT"},{"x":35,"y":25,"p":"PLT"},{"x":40,"y":27,"p":"PLT"},{"x":42,"y":20,"p":"PLT"},{"x":44,"y":24,"p":"PLT"},{"x":33,"y":22,"p":"PLT"},{"x":14,"y":4,"p":"RBC"}]
},
"resolve":{"scale":{"x":"independent","y":"independent"},"axis":{"x":"independent","y":"independent"}},
"layer":[
{"encoding":{"x":{"field":"x0","type":"quantitative","axis":null,"scale":{"domain":[0,922],"nice":false,"zero":false}},"x2":{"field":"x1"},"y":{"field":"y0","type":"quantitative","axis":null,"scale":{"domain":[606,0],"nice":false,"zero":false}},"y2":{"field":"y1"}},
"layer":[
{"data":{"name":"frameL"},"mark":{"type":"rect","color":"#32353c"}},
{"data":{"name":"frameR"},"mark":{"type":"rect","color":"#434446"}},
{"data":{"name":"white"},"mark":{"type":"rect","color":"#ffffff","stroke":"#c8c8c8","strokeWidth":1}}]},
{"data":{"name":"caption"},"mark":{"type":"text","align":"left","baseline":"middle","fontSize":26,"font":"Roboto","color":"#87888a"},"encoding":{"x":{"field":"x","type":"quantitative","axis":null,"scale":{"domain":[0,922],"nice":false,"zero":false}},"y":{"field":"y","type":"quantitative","axis":null,"scale":{"domain":[606,0],"nice":false,"zero":false}},"text":{"field":"text"}}},
{"encoding":{"x":{"field":"x","type":"quantitative","title":"Fluorescence","scale":{"domain":[0,446],"range":[82,528],"nice":false,"zero":false},"axis":{"orient":"bottom","offset":-61,"zindex":1,"values":[0,87,174,261,348,435],"labels":false,"grid":false,"domainColor":"#a0a0a0","domainWidth":2.5,"tickColor":"#8a8a8a","tickWidth":1.5,"tickSize":5,"titleFont":"Roboto","titleFontSize":30.5,"titleFontWeight":"normal","titleColor":"#8b8e91","titleX":305,"titleY":31,"titleAlign":"center","titleBaseline":"middle"}},
"y":{"field":"y","type":"quantitative","title":"Size","scale":{"domain":[0,390],"range":[537,147],"nice":false,"zero":false},"axis":{"orient":"left","offset":-74,"zindex":1,"values":[0,38,77,115,154,192,230,269,307,346,384],"labels":false,"grid":false,"domainColor":"#a0a0a0","domainWidth":2.5,"tickColor":"#8a8a8a","tickWidth":1.5,"tickSize":5,"titleFont":"Roboto","titleFontSize":30,"titleFontWeight":"normal","titleColor":"#8b8e91","titleX":-39,"titleY":339,"titleAlign":"center","titleBaseline":"middle"}},
"color":{"field":"p","type":"nominal","scale":{"domain":["RBC_FRAG","RETICS","RBC","PLT","WBC"],"range":["#ee8a85","#e93ff5","#ea3510","#0a24f5","#5cbfc2"]},"legend":{"title":null,"orient":"none","legendX":559,"legendY":482,"columns":2,"symbolType":"circle","symbolSize":270,"symbolStrokeWidth":0,"symbolOpacity":1,"labelFont":"Roboto","labelFontSize":21,"labelColor":"#444444","labelOffset":11,"rowPadding":16,"columnPadding":55}}},
"layer":[{"data":{"name":"dotsL"},"mark":{"type":"point","filled":true,"size":10,"opacity":0.95}},{"data":{"name":"coreL"},"mark":{"type":"point","filled":true,"size":60,"opacity":1}}]},
{"data":{"name":"arrowUpL"},"mark":{"type":"point","shape":"triangle-up","filled":true,"size":60,"color":"#8f8f8f","opacity":1},"encoding":{"x":{"field":"x","type":"quantitative","axis":null,"scale":{"domain":[0,446],"range":[82,528],"nice":false,"zero":false}},"y":{"field":"y","type":"quantitative","axis":null,"scale":{"domain":[0,390],"range":[537,147],"nice":false,"zero":false}}}},
{"data":{"name":"arrowRightL"},"mark":{"type":"point","shape":"triangle-right","filled":true,"size":60,"color":"#8f8f8f","opacity":1},"encoding":{"x":{"field":"x","type":"quantitative","axis":null,"scale":{"domain":[0,446],"range":[82,528],"nice":false,"zero":false}},"y":{"field":"y","type":"quantitative","axis":null,"scale":{"domain":[0,390],"range":[537,147],"nice":false,"zero":false}}}},
{"encoding":{"x":{"field":"x","type":"quantitative","title":null,"scale":{"domain":[0,359],"range":[560,919],"nice":false,"zero":false},"axis":{"orient":"bottom","offset":-254,"zindex":1,"values":[0,71,142,211,282,351],"labels":false,"grid":false,"domainColor":"#a0a0a0","domainWidth":2,"tickColor":"#8a8a8a","tickWidth":1.5,"tickSize":4}},
"y":{"field":"y","type":"quantitative","title":null,"scale":{"domain":[0,327],"range":[347,20],"nice":false,"zero":false},"axis":{"orient":"left","offset":-555,"zindex":1,"values":[0,32,64,97,129,161,193,225,258,290,322],"labels":false,"grid":false,"domainColor":"#a0a0a0","domainWidth":2,"tickColor":"#8a8a8a","tickWidth":1.5,"tickSize":5}},
"color":{"field":"p","type":"nominal"}},
"layer":[{"data":{"name":"dotsR"},"mark":{"type":"point","filled":true,"size":9,"opacity":0.95}},{"data":{"name":"coreR"},"mark":{"type":"point","filled":true,"size":60,"opacity":1}}]},
{"data":{"name":"arrowUpR"},"mark":{"type":"point","shape":"triangle-up","filled":true,"size":40,"color":"#8f8f8f","opacity":1},"encoding":{"x":{"field":"x","type":"quantitative","axis":null,"scale":{"domain":[0,359],"range":[560,919],"nice":false,"zero":false}},"y":{"field":"y","type":"quantitative","axis":null,"scale":{"domain":[0,327],"range":[347,20],"nice":false,"zero":false}}}},
{"data":{"name":"arrowRightR"},"mark":{"type":"point","shape":"triangle-right","filled":true,"size":40,"color":"#8f8f8f","opacity":1},"encoding":{"x":{"field":"x","type":"quantitative","axis":null,"scale":{"domain":[0,359],"range":[560,919],"nice":false,"zero":false}},"y":{"field":"y","type":"quantitative","axis":null,"scale":{"domain":[0,327],"range":[347,20],"nice":false,"zero":false}}}},
{"data":{"name":"ring"},"mark":{"type":"line","color":"#ffff00","strokeWidth":6,"interpolate":"cardinal-closed"},"encoding":{"x":{"field":"x","type":"quantitative","axis":null,"scale":{"domain":[0,922],"nice":false,"zero":false}},"y":{"field":"y","type":"quantitative","axis":null,"scale":{"domain":[606,0],"nice":false,"zero":false}},"order":{"field":"k","type":"quantitative"}}}
]}
